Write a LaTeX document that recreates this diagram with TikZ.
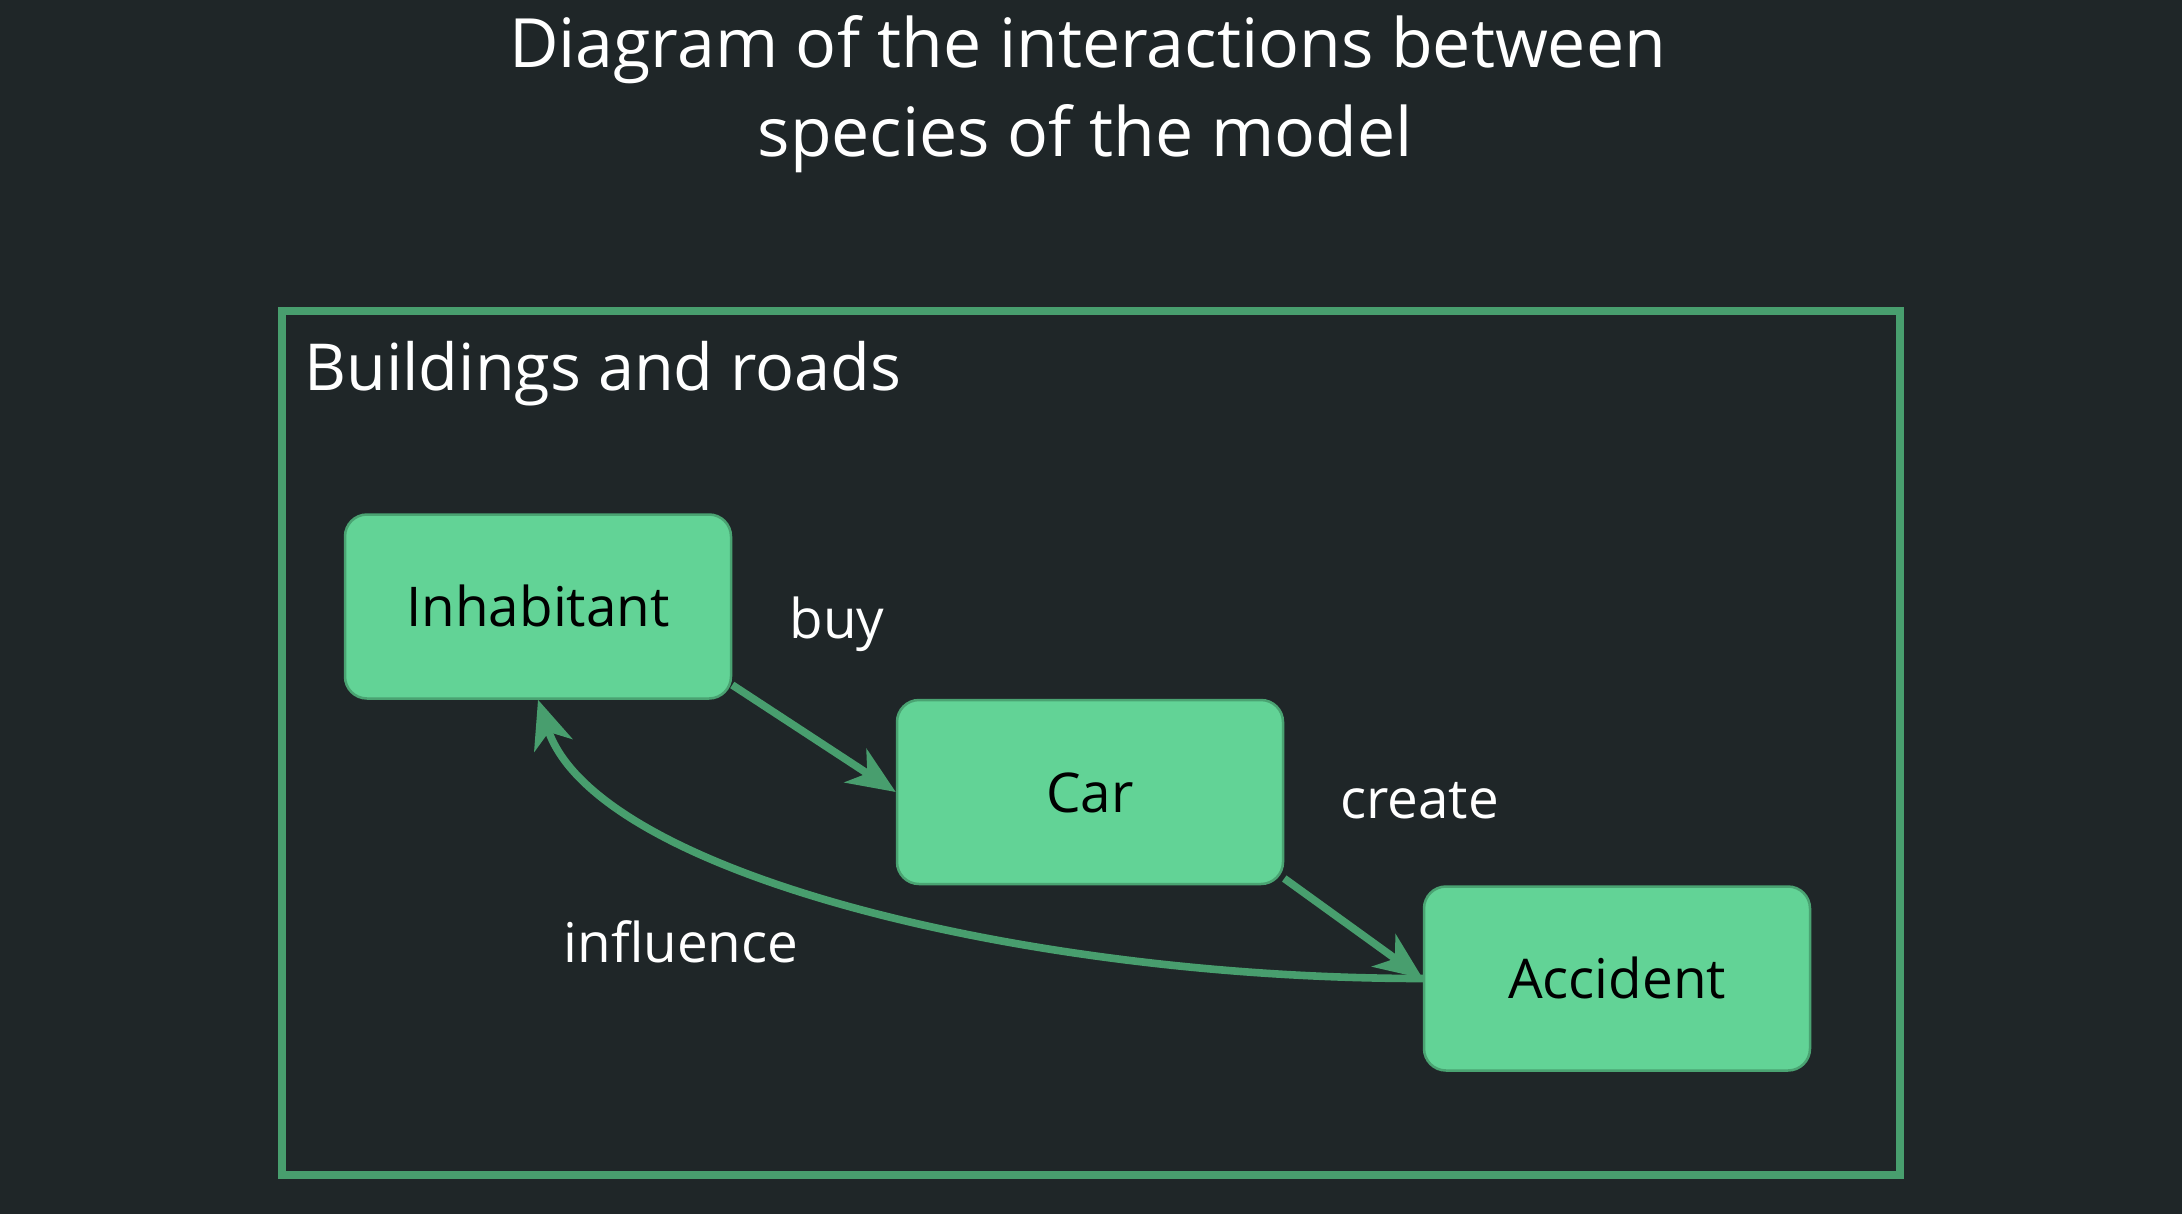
\documentclass[tikz,border=0pt]{standalone}
\usepackage{fontspec}
\setmainfont{Open Sans}
\usetikzlibrary{arrows.meta}
\definecolor{bgcol}{RGB}{31,38,40}
\definecolor{nodefill}{RGB}{98,211,150}
\definecolor{nodeline}{RGB}{74,163,114}
\definecolor{edgecol}{RGB}{72,158,110}
\begin{document}
\begin{tikzpicture}[x=0.5pt,y=-0.5pt,
  species/.style={draw=nodeline, line width=1.25pt, fill=nodefill, rounded corners=11pt,
    minimum width=193pt, minimum height=92pt, inner sep=0pt, text=black,
    font=\fontsize{27.4}{32}\selectfont, text height=20pt, text depth=0pt},
  rel/.style={draw=edgecol, line width=3.8pt, -{Stealth[length=24pt,width=20pt,inset=7pt]}},
  lbl/.style={text=white, font=\fontsize{27.4}{32}\selectfont, inner sep=0pt, anchor=base},
  titletext/.style={text=white, font=\fontsize{34}{44}\selectfont, inner sep=0pt, anchor=base},
  clusterlbl/.style={text=white, font=\fontsize{32.4}{40}\selectfont, inner sep=0pt, anchor=base west},
  cluster/.style={draw=edgecol, line width=4pt, inner sep=0pt, minimum width=809pt, minimum height=432pt}
]
\fill[bgcol] (0,0) rectangle (2182,1214);
\useasboundingbox (0,0) rectangle (2182,1214);

\node[titletext] (title1) at (1087.5,68) {Diagram of the interactions between};
\node[titletext] (title2) at (1085,157) {species of the model};

\node[cluster] (bldg) at (1091,743) {};
\node[clusterlbl] (bldglbl) at (304,390) {Buildings and roads};

\node[species] (inh) at (538,606.5) {Inhabitant};
\node[species] (car) at (1090,792) {Car};
\node[species] (acc) at (1617,978.5) {Accident};

\draw[rel] (inh.-22) -- (car.west);
\draw[rel] (car.-24) -- (acc.west);
\draw[rel] (acc.west) .. controls +(-400,0) and +(58,173) .. (inh.south);

\node[lbl] (buy) at (837,638) {buy};
\node[lbl] (create) at (1419.5,818) {create};
\node[lbl] (influence) at (681,962) {influence};
\end{tikzpicture}
\end{document}
